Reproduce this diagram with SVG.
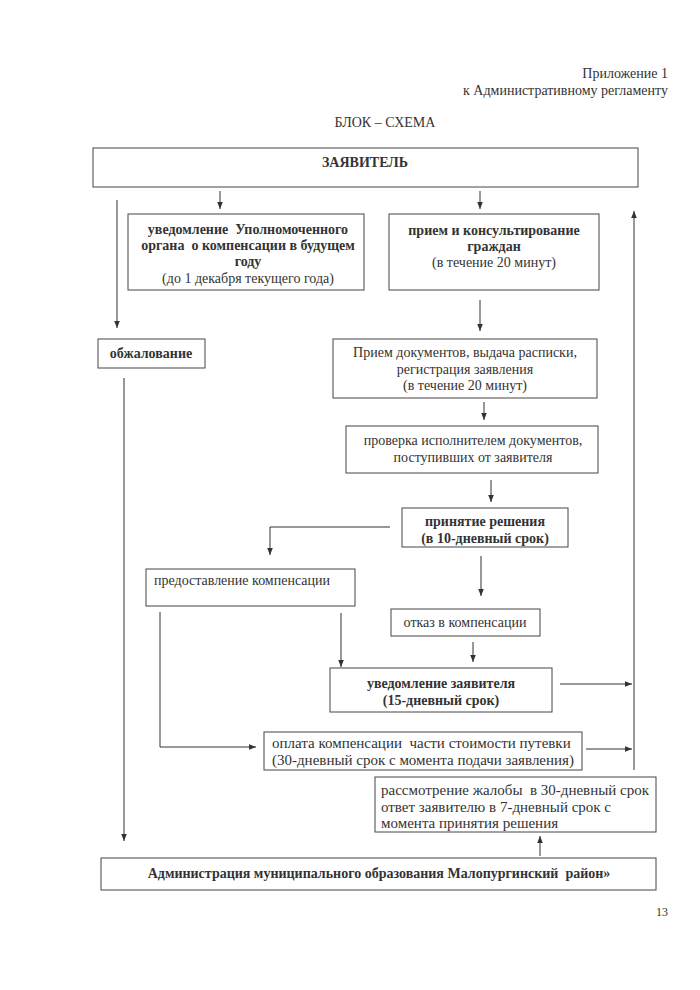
<svg xmlns="http://www.w3.org/2000/svg" width="700" height="990" viewBox="0 0 700 990">
<defs>
<marker id="ah" viewBox="0 0 10 10" refX="10" refY="5" markerWidth="7" markerHeight="7" markerUnits="userSpaceOnUse" orient="auto">
<path d="M0,1 L10,5 L0,9 z" fill="#333"/>
</marker>
</defs>
<style>
text{font-family:"Liberation Serif","Times New Roman",serif;font-size:14px;fill:#333;white-space:pre}
.b{font-weight:bold}
.l{font-size:15px}
.box{fill:#fff;stroke:#444;stroke-width:1}
.c{text-anchor:middle}
.con path{fill:none;stroke:#333;stroke-width:1;marker-end:url(#ah)}
.con path.n{marker-end:none}
</style>
<rect width="700" height="990" fill="#fff"/>
<text x="668" y="78" text-anchor="end">Приложение 1</text>
<text x="668" y="95" text-anchor="end">к Административному регламенту</text>
<text x="385" y="127" class="c">БЛОК – СХЕМА</text>

<g id="zayavitel"><rect class="box" x="93" y="148" width="545" height="39"/><text class="b c" x="365" y="167">ЗАЯВИТЕЛЬ</text></g>
<g id="uvedomlenie-upoln"><rect class="box" x="128" y="214" width="236" height="76"/>
<text class="b c" x="248" y="234">уведомление  Уполномоченного</text>
<text class="b c" x="248" y="250">органа  о компенсации в будущем</text>
<text class="b c" x="248" y="266">году</text>
<text class="c" x="248" y="283">(до 1 декабря текущего года)</text></g>
<g id="priem-konsult"><rect class="box" x="389" y="214" width="210" height="76"/>
<text class="b c" x="494" y="235">прием и консультирование</text>
<text class="b c" x="494" y="251">граждан</text>
<text class="c" x="494" y="267">(в течение 20 минут)</text></g>
<g id="obzhalovanie"><rect class="box" x="98" y="339" width="107" height="29"/><text class="b c" x="151" y="358">обжалование</text></g>
<g id="priem-doc"><rect class="box" x="333" y="339" width="264" height="59"/>
<text class="c" x="465" y="357">Прием документов, выдача расписки,</text>
<text class="c" x="465" y="374">регистрация заявления</text>
<text class="c" x="465" y="390">(в течение 20 минут)</text></g>
<g id="proverka"><rect class="box" x="346" y="426" width="252" height="47"/>
<text class="c" x="473" y="445">проверка исполнителем документов,</text>
<text class="c" x="473" y="462">поступивших от заявителя</text></g>
<g id="prinyatie"><rect class="box" x="402" y="508" width="166" height="39"/>
<text class="b c" x="485" y="526">принятие решения</text>
<text class="b c" x="485" y="543">(в 10-дневный срок)</text></g>
<g id="predostavlenie"><rect class="box" x="146" y="569" width="209" height="37"/>
<text x="154" y="585">предоставление компенсации</text></g>
<g id="otkaz"><rect class="box" x="391" y="609" width="149" height="27"/>
<text class="c" x="465" y="627">отказ в компенсации</text></g>
<g id="uvedomlenie-zayav"><rect class="box" x="330" y="668" width="222" height="44"/>
<text class="b c" x="441" y="688">уведомление заявителя</text>
<text class="b c" x="441" y="705">(15-дневный срок)</text></g>
<g id="oplata"><rect class="box" x="264" y="732" width="318" height="38"/>
<text class="l" x="272" y="748">оплата компенсации  части стоимости путевки</text>
<text class="l" x="272" y="765">(30-дневный срок с момента подачи заявления)</text></g>
<g id="rassmotrenie"><rect class="box" x="375" y="777" width="281" height="55"/>
<text class="l" x="381" y="795">рассмотрение жалобы  в 30-дневный срок</text>
<text class="l" x="381" y="812">ответ заявителю в 7-дневный срок с</text>
<text class="l" x="381" y="828">момента принятия решения</text></g>
<g id="administraciya"><rect class="box" x="101" y="858" width="555" height="32"/>
<text class="b c" x="379" y="878">Администрация муниципального образования Малопургинский  район»</text></g>
<text x="668" y="916" text-anchor="end" style="font-size:12px">13</text>

<g class="con">
<path d="M220,191 V209"/>
<path d="M480,191 V209"/>
<path d="M117,200 V328"/>
<path d="M480,300 V331"/>
<path d="M124,378 V841"/>
<path d="M484,402 V420"/>
<path d="M491,480 V502"/>
<path d="M390,527 H270 V555"/>
<path d="M481,556 V596"/>
<path d="M341,613 V667"/>
<path d="M473,642 V662"/>
<path d="M560,684 H632"/>
<path class="n" d="M160,612 V747"/>
<path d="M160,747 H256"/>
<path d="M586,749 H632"/>
<path d="M634,770 V211"/>
<path d="M540,856 V836"/>
</g>
</svg>
